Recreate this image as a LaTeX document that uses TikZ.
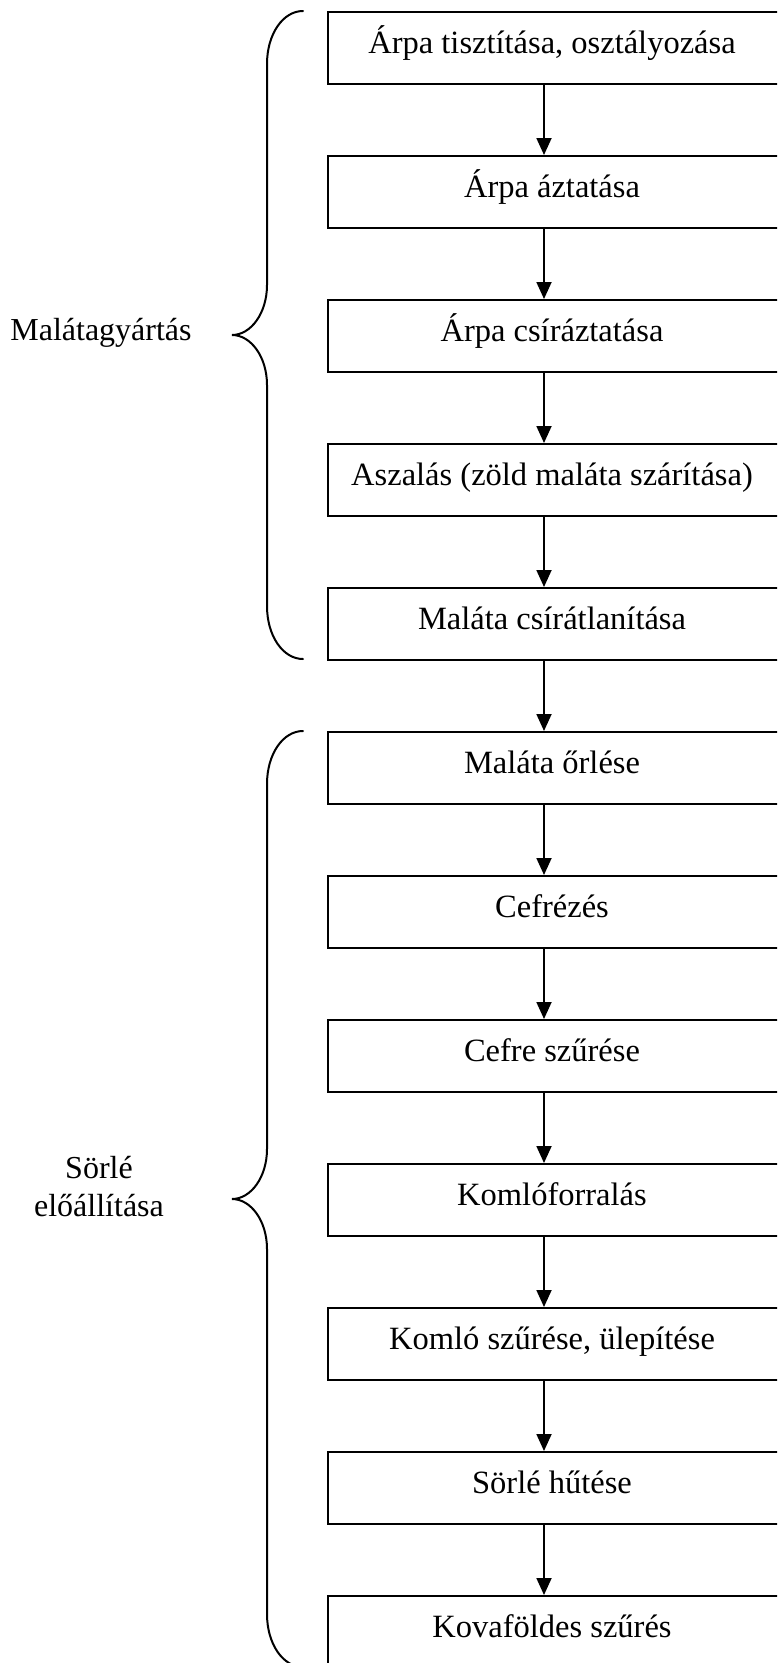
\documentclass[tikz,border=0pt]{standalone}
\usepackage{fontspec}
\setmainfont{Liberation Serif}
\usetikzlibrary{arrows.meta}

\tikzset{
  stepbox/.style={draw, line width=2pt, minimum width=463pt, minimum height=72pt,
                  inner sep=0pt, anchor=north west},
  steptext/.style={anchor=base, inner sep=0pt, font=\fontsize{32.5}{39}\selectfont},
  grouplabel/.style={anchor=base, inner sep=0pt, font=\fontsize{32}{38}\selectfont},
  flow/.style={line width=1.8pt, -{Triangle[length=17pt,width=15pt]}},
  bracket/.style={line width=2pt, line cap=round}
}

\begin{document}
\begin{tikzpicture}[x=1pt, y=-1pt]
  \useasboundingbox (0,0) rectangle (777,1663);
  \clip (0,0) rectangle (777,1663);
  \fill[white] (0,0) rectangle (777,1663);

  % process steps: box tops every 144 units, text baseline 42 below the top
  \foreach \i/\txt in {1/{Árpa tisztítása, osztályozása},
                       2/{Árpa áztatása},
                       3/{Árpa csíráztatása},
                       4/{Aszalás (zöld maláta szárítása)},
                       5/{Maláta csírátlanítása},
                       6/{Maláta őrlése},
                       7/{Cefrézés},
                       8/{Cefre szűrése},
                       9/{Komlóforralás},
                       10/{Komló szűrése, ülepítése},
                       11/{Sörlé hűtése},
                       12/{Kovaföldes szűrés}} {
    \pgfmathsetmacro{\top}{11+144*(\i-1)}
    \node[stepbox] (b\i) at (327,\top) {};
    \node[steptext] (t\i) at (552,\top+42) {\txt};
  }

  % arrows between consecutive steps, a little left of the text centre
  \coordinate (ax) at (544,0);
  \foreach \i [evaluate=\i as \j using int(\i+1)] in {1,...,11} {
    \draw[flow] (ax |- b\i.south) -- (ax |- b\j.north);
  }

  % group braces
  \draw[bracket] (303,11) .. controls (283,11) and (267,34) .. (267,64)
    -- (267,285) .. controls (267,313) and (251,335) .. (232,335)
    .. controls (251,335) and (267,357) .. (267,385)
    -- (267,606) .. controls (267,636) and (283,659) .. (303,659);
  \draw[bracket] (303,731) .. controls (283,731) and (267,754) .. (267,784)
    -- (267,1149) .. controls (267,1177) and (251,1199) .. (232,1199)
    .. controls (251,1199) and (267,1221) .. (267,1249)
    -- (267,1614) .. controls (267,1644) and (283,1667) .. (303,1667);

  % group labels
  \node[grouplabel] (g1) at (101,340) {Malátagyártás};
  \node[grouplabel] (g2a) at (99,1178) {Sörlé};
  \node[grouplabel] (g2b) at (99,1216) {előállítása};
\end{tikzpicture}
\end{document}
